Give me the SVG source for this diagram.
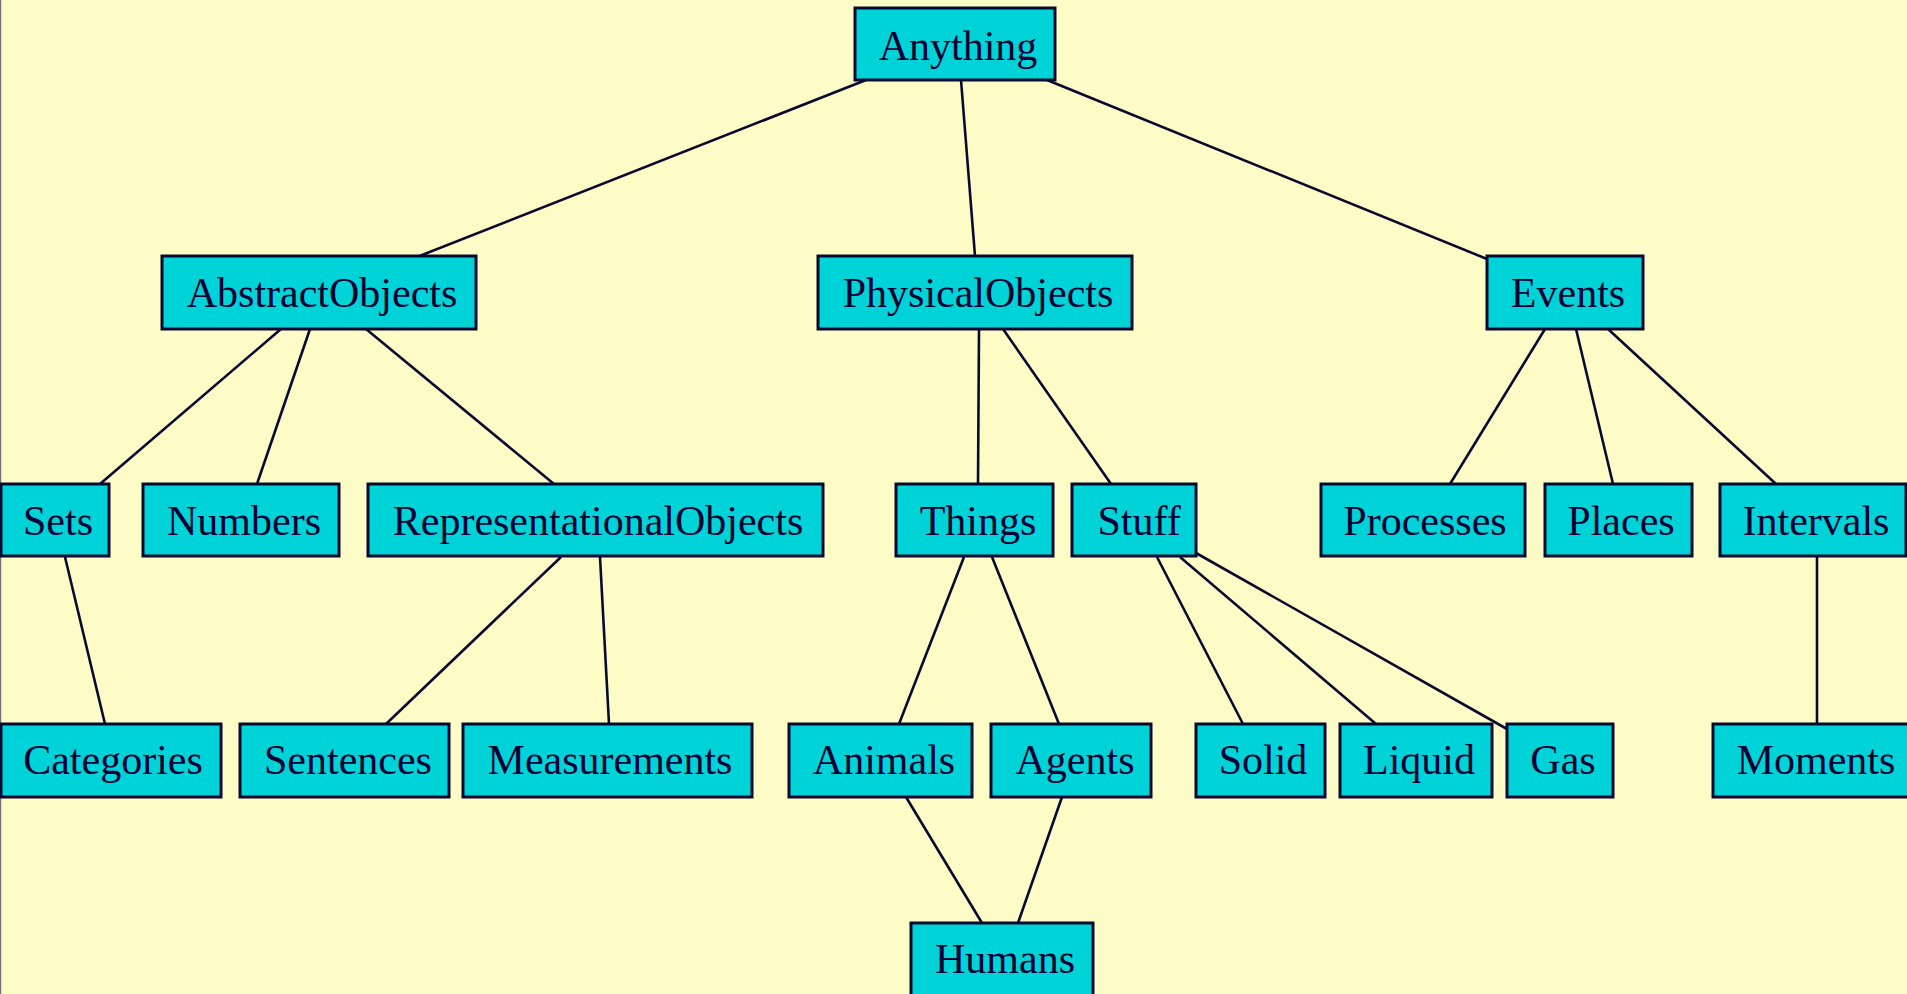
<svg xmlns="http://www.w3.org/2000/svg" width="1907" height="994" viewBox="0 0 1907 994">
<style>
.bg{fill:#FEFCC6}
.node rect{fill:#00D3D7;stroke:#0A0A30;stroke-width:3}
.node text{font-family:"Liberation Serif","Times New Roman",serif;font-size:42px;fill:#000033;text-anchor:middle}
#edges line{stroke:#0A0A30;stroke-width:2.6}
</style>
<rect class="bg" x="0" y="0" width="1907" height="994"/>
<line x1="0.5" y1="0" x2="0.5" y2="994" stroke="#777" stroke-width="1.5"/>
<g id="edges">
<line x1="866" y1="80" x2="417" y2="257"/>
<line x1="961" y1="80" x2="975" y2="256"/>
<line x1="1047" y1="80" x2="1487" y2="259"/>
<line x1="281" y1="329" x2="100" y2="484"/>
<line x1="310" y1="329" x2="257" y2="484"/>
<line x1="366" y1="329" x2="554" y2="484"/>
<line x1="979" y1="329" x2="978" y2="484"/>
<line x1="1003" y1="329" x2="1111" y2="484"/>
<line x1="1545" y1="329" x2="1450" y2="484"/>
<line x1="1576" y1="329" x2="1613" y2="484"/>
<line x1="1608" y1="329" x2="1776" y2="484"/>
<line x1="65" y1="557" x2="105" y2="724"/>
<line x1="561" y1="557" x2="386" y2="724"/>
<line x1="600" y1="557" x2="609" y2="724"/>
<line x1="964" y1="557" x2="899" y2="724"/>
<line x1="992" y1="557" x2="1059" y2="724"/>
<line x1="1157" y1="557" x2="1243" y2="724"/>
<line x1="1180" y1="557" x2="1376" y2="724"/>
<line x1="1196" y1="553" x2="1507" y2="729"/>
<line x1="1817" y1="557" x2="1817" y2="724"/>
<line x1="906" y1="797" x2="982" y2="923"/>
<line x1="1062" y1="797" x2="1018" y2="923"/>
</g>
<g id="anything" class="node"><rect x="855" y="8" width="200" height="72"/><text x="958" y="60">Anything</text></g>
<g id="abstractobjects" class="node"><rect x="162" y="256" width="314" height="73"/><text x="322" y="307">AbstractObjects</text></g>
<g id="physicalobjects" class="node"><rect x="818" y="256" width="314" height="73"/><text x="978" y="307">PhysicalObjects</text></g>
<g id="events" class="node"><rect x="1487" y="256" width="156" height="73"/><text x="1568" y="307">Events</text></g>
<g id="sets" class="node"><rect x="1" y="484" width="108" height="72"/><text x="58" y="535">Sets</text></g>
<g id="numbers" class="node"><rect x="143" y="484" width="196" height="72"/><text x="244" y="535">Numbers</text></g>
<g id="representationalobjects" class="node"><rect x="368" y="484" width="455" height="72"/><text x="598" y="535">RepresentationalObjects</text></g>
<g id="things" class="node"><rect x="896" y="484" width="157" height="72"/><text x="978" y="535">Things</text></g>
<g id="stuff" class="node"><rect x="1072" y="484" width="124" height="72"/><text x="1139" y="535">Stuff</text></g>
<g id="processes" class="node"><rect x="1321" y="484" width="204" height="72"/><text x="1425" y="535">Processes</text></g>
<g id="places" class="node"><rect x="1545" y="484" width="147" height="72"/><text x="1621" y="535">Places</text></g>
<g id="intervals" class="node"><rect x="1720" y="484" width="186" height="72"/><text x="1816" y="535">Intervals</text></g>
<g id="categories" class="node"><rect x="1" y="724" width="220" height="73"/><text x="113" y="774">Categories</text></g>
<g id="sentences" class="node"><rect x="240" y="724" width="209" height="73"/><text x="348" y="774">Sentences</text></g>
<g id="measurements" class="node"><rect x="463" y="724" width="289" height="73"/><text x="610" y="774">Measurements</text></g>
<g id="animals" class="node"><rect x="789" y="724" width="183" height="73"/><text x="884" y="774">Animals</text></g>
<g id="agents" class="node"><rect x="991" y="724" width="160" height="73"/><text x="1075" y="774">Agents</text></g>
<g id="solid" class="node"><rect x="1196" y="724" width="129" height="73"/><text x="1263" y="774">Solid</text></g>
<g id="liquid" class="node"><rect x="1340" y="724" width="152" height="73"/><text x="1419" y="774">Liquid</text></g>
<g id="gas" class="node"><rect x="1507" y="724" width="106" height="73"/><text x="1563" y="774">Gas</text></g>
<g id="moments" class="node"><rect x="1713" y="724" width="206" height="73"/><text x="1816" y="774">Moments</text></g>
<g id="humans" class="node"><rect x="911" y="923" width="182" height="80"/><text x="1005" y="973">Humans</text></g>
</svg>
